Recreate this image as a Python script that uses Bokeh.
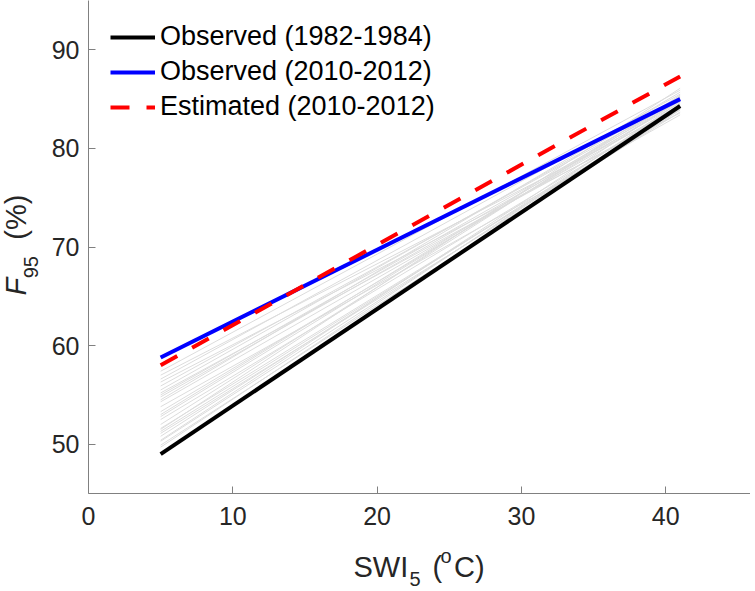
import math
from bokeh.plotting import figure
from bokeh.layouts import row, column
from bokeh.models import Legend, LegendItem, FixedTicker, Range1d
from bokeh.core.properties import value
from bokeh.embed import file_html
from bokeh.resources import INLINE

# ---- data ----
swi = [5, 41]
obs_1982 = [49.0, 84.3]
obs_2010 = [58.8, 85.0]
est_2010 = [58.0, 87.3]
gray_start = [57.4, 57.0, 56.6, 56.3, 55.9, 55.5, 55.2, 54.8, 54.5, 54.3, 53.8, 53.3, 52.8,
              52.5, 52.0, 51.6, 51.5, 51.1, 50.8, 50.4, 50.3, 49.9, 49.7, 53.0, 55.0, 51.3]
gray_end = [85.9, 84.1, 85.5, 83.6, 84.9, 85.2, 83.9, 84.6, 85.7, 84.4, 83.4, 84.8, 85.1,
            84.2, 85.4, 84.0, 86.1, 83.7, 84.5, 85.0, 84.3, 83.9, 84.7, 85.3, 84.8, 84.1]
x_ticks = [0, 10, 20, 30, 40]
y_ticks = [50, 60, 70, 80, 90]
legend_labels = ["Observed (1982-1984)", "Observed (2010-2012)", "Estimated (2010-2012)"]

FONT = "Liberation Sans"
TXT = "#262626"
AX = "#808080"

# page geometry: frame left 88, top 0, bottom 493, right 750
LEFTW = 40          # width of the y-label strip
MAINW = 710
MAINH = 543
BOTH = 48           # height of the x-label strip
XS = 14.43          # px per x unit
YS = 9.86           # px per y unit
XMAX = (750 - 88) / XS
YMAX = 45 + 493 / YS

p = figure(width=MAINW, height=MAINH, output_backend="svg", toolbar_location=None,
           x_range=Range1d(0, XMAX), y_range=Range1d(45, YMAX),
           min_border_left=88 - LEFTW, min_border_right=0, min_border_top=0,
           min_border_bottom=MAINH - 493)
p.outline_line_color = None
p.grid.visible = False

for ax, ticks in ((p.xaxis[0], x_ticks), (p.yaxis[0], y_ticks)):
    ax.ticker = FixedTicker(ticks=ticks)
    ax.axis_line_color = AX
    ax.axis_line_width = 1
    ax.major_tick_line_color = AX
    ax.major_tick_in = 7
    ax.major_tick_out = 0
    ax.minor_tick_line_color = None
    ax.major_label_text_font = FONT
    ax.major_label_text_font_size = "25px"
    ax.major_label_text_color = TXT
p.xaxis[0].major_label_standoff = 13
p.yaxis[0].major_label_standoff = 9

# gray lines
p.multi_line(xs=[swi for _ in gray_start], ys=[[a, b] for a, b in zip(gray_start, gray_end)],
             line_color="#dcdcdc", line_width=1)

r1 = p.line(swi, obs_1982, line_color="black", line_width=4)
r2 = p.line(swi, obs_2010, line_color="#0000ff", line_width=4)
r3 = p.line(swi, est_2010, line_color="#ff0000", line_width=4, line_dash="19 17")

legend = Legend(items=[LegendItem(label=legend_labels[0], renderers=[r1]),
                       LegendItem(label=legend_labels[1], renderers=[r2]),
                       LegendItem(label=legend_labels[2], renderers=[r3])],
                location=(22, 371), margin=0, padding=0, spacing=4,
                glyph_width=45, glyph_height=30, label_height=30, label_standoff=5,
                label_text_font=FONT, label_text_font_size="27px", label_text_color="black",
                border_line_color=None, background_fill_alpha=0)
p.add_layout(legend, "center")


def strip(w, h):
    f = figure(width=w, height=h, output_backend="svg", toolbar_location=None,
               x_range=Range1d(0, w), y_range=Range1d(0, h),
               x_axis_type=None, y_axis_type=None, title=None,
               min_border=0, min_border_left=0, min_border_right=0,
               min_border_top=0, min_border_bottom=0)
    f.outline_line_color = None
    f.grid.visible = False
    return f


# y-axis label strip: F_95 (%)
YDX, YDY = -6.5, 28
yl = strip(LEFTW, MAINH)
for t, px, py, size, style in (("F", 22, 297, "29px", "italic"),
                               ("95", 36.5, 278, "20px", "normal"),
                               ("(%)", 22, 235.5, "29px", "normal")):
    yl.text(x=[px + YDX], y=[MAINH - (py + YDY)], text=[t], angle=math.pi / 2,
            text_font=value(FONT), text_font_size=value(size), text_font_style=style,
            text_color=TXT, text_align="left", text_baseline="alphabetic")

# x-axis label strip: SWI_5 (^oC)
XDY = -11
TOT = MAINH + BOTH
xl = strip(LEFTW + MAINW, BOTH)
for t, px, py, size in (("SWI", 353, 577.7, "29px"),
                        ("5", 409, 589.5, "20px"),
                        ("(", 432, 577.7, "29px"),
                        ("o", 440, 566, "20px"),
                        ("C)", 453.5, 577.7, "29px")):
    xl.text(x=[px], y=[TOT - (py + XDY)], text=[t],
            text_font=value(FONT), text_font_size=value(size),
            text_color=TXT, text_align="left", text_baseline="alphabetic")

layout = column(row(yl, p, spacing=0), xl, spacing=0)
open("out.html", "w").write(file_html(layout, INLINE))
